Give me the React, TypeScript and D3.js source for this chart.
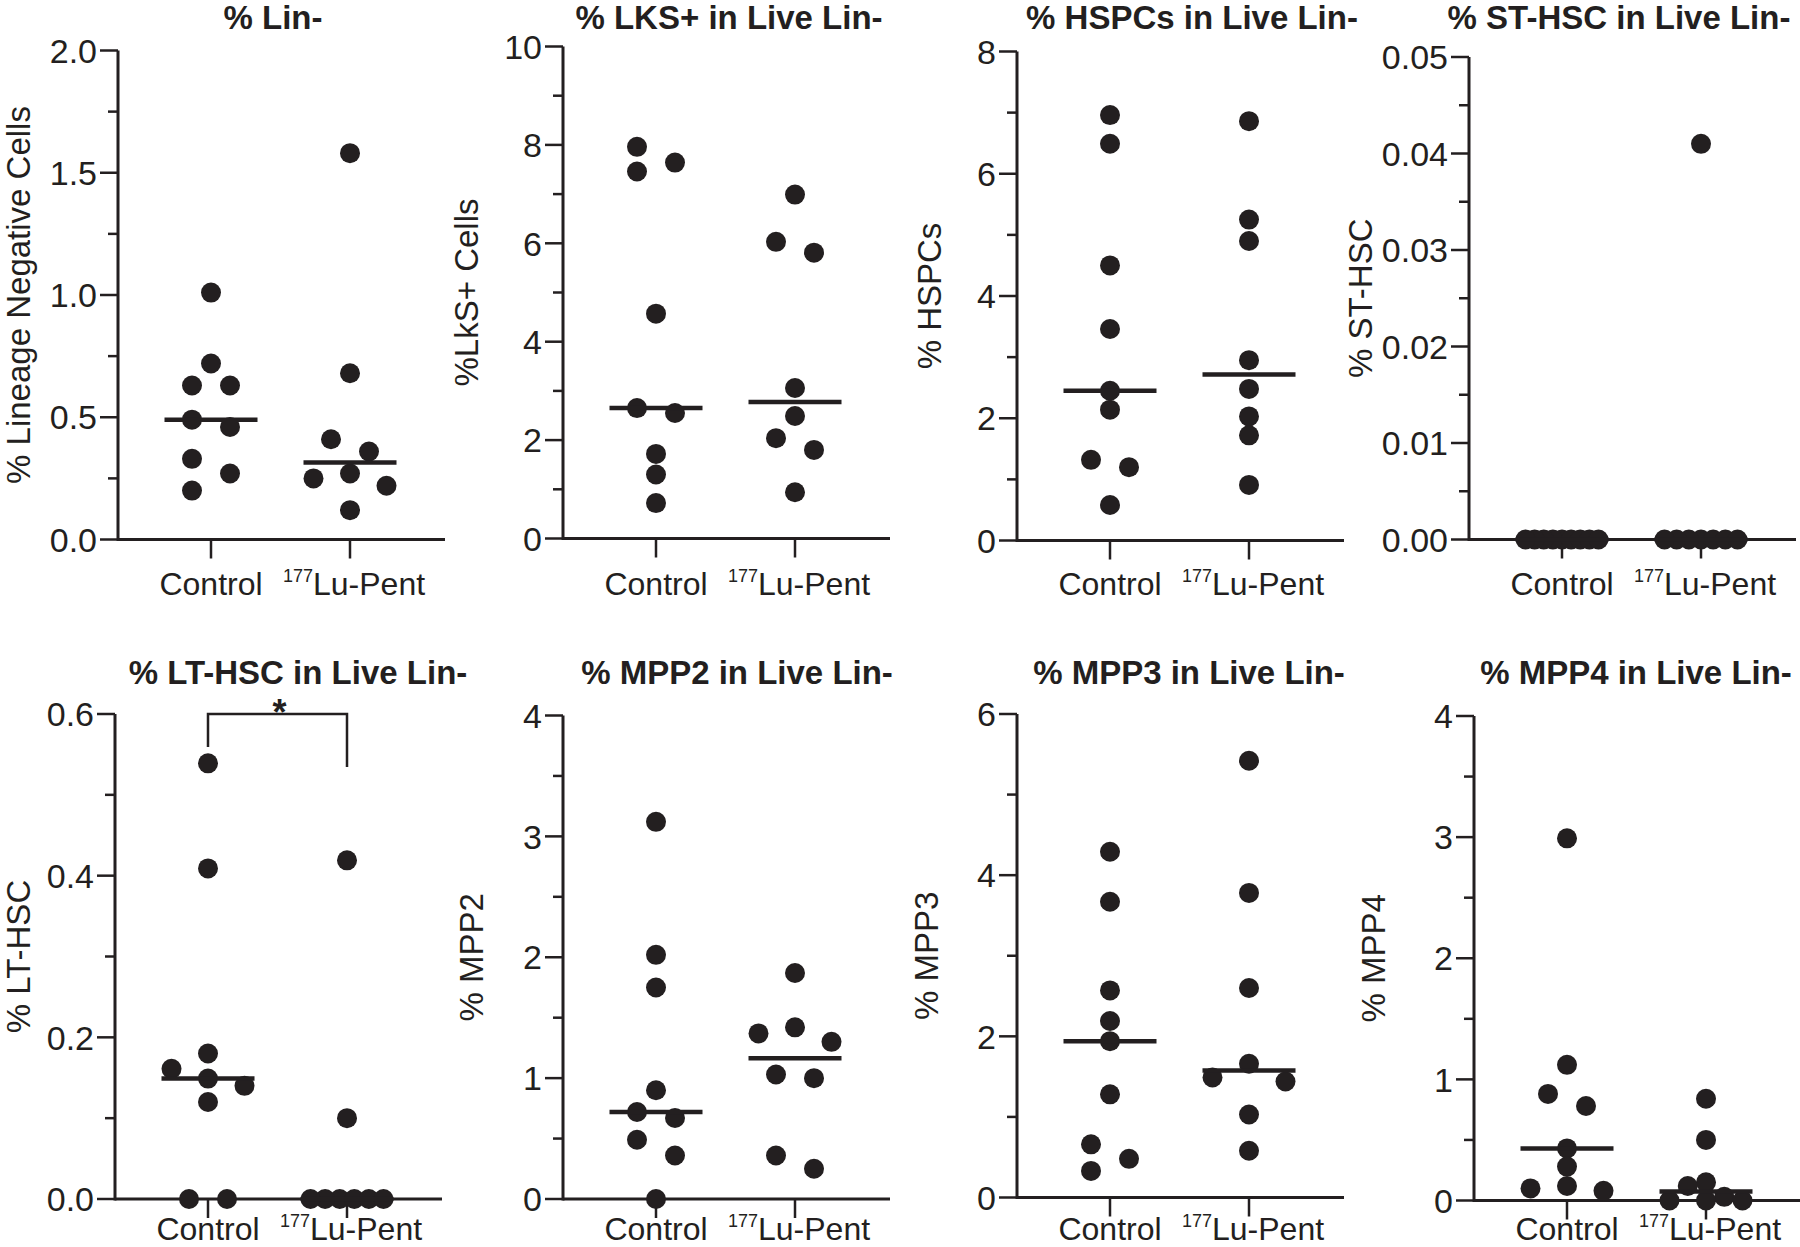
import React from 'react';
import * as d3 from 'd3';

// ---------------- data ----------------
const groups = ['Control', '177Lu-Pent'];

const linNegControl = [1.01, 0.72, 0.63, 0.63, 0.49, 0.46, 0.33, 0.27, 0.2];
const linNegLu = [1.58, 0.68, 0.41, 0.36, 0.27, 0.25, 0.22, 0.12];

const lksControl = [7.96, 7.64, 7.46, 4.57, 2.65, 2.55, 1.72, 1.3, 0.72];
const lksLu = [6.99, 6.03, 5.81, 3.06, 2.49, 2.04, 1.8, 0.94];

const hspcControl = [6.96, 6.49, 4.5, 3.46, 2.45, 2.14, 1.32, 1.2, 0.58];
const hspcLu = [6.86, 5.25, 4.9, 2.95, 2.48, 2.03, 1.72, 0.91];

const stControl = [0, 0, 0, 0, 0, 0, 0, 0, 0];
const stLu = [0.041, 0, 0, 0, 0, 0, 0, 0];

const ltControl = [0.539, 0.409, 0.18, 0.161, 0.149, 0.14, 0.12, 0, 0];
const ltLu = [0.419, 0.1, 0, 0, 0, 0, 0, 0];

const mpp2Control = [3.12, 2.02, 1.75, 0.9, 0.72, 0.67, 0.49, 0.36, 0];
const mpp2Lu = [1.87, 1.42, 1.37, 1.3, 1.03, 1.0, 0.36, 0.25];

const mpp3Control = [4.29, 3.67, 2.57, 2.19, 1.94, 1.28, 0.66, 0.48, 0.33];
const mpp3Lu = [5.42, 3.78, 2.6, 1.66, 1.49, 1.44, 1.03, 0.58];

const mpp4Control = [2.99, 1.12, 0.88, 0.78, 0.43, 0.28, 0.12, 0.1, 0.08];
const mpp4Lu = [0.84, 0.5, 0.15, 0.12, 0.03, 0, 0, 0];

const linNegTicks = [0, 0.5, 1.0, 1.5, 2.0];
const lksTicks = [0, 2, 4, 6, 8, 10];
const hspcTicks = [0, 2, 4, 6, 8];
const stTicks = [0, 0.01, 0.02, 0.03, 0.04, 0.05];
const ltTicks = [0, 0.2, 0.4, 0.6];
const mpp2Ticks = [0, 1, 2, 3, 4];
const mpp3Ticks = [0, 2, 4, 6];
const mpp4Ticks = [0, 1, 2, 3, 4];

const titles = [
  '% Lin-',
  '% LKS+ in Live Lin-',
  '% HSPCs in Live Lin-',
  '% ST-HSC in Live Lin-',
  '% LT-HSC in Live Lin-',
  '% MPP2 in Live Lin-',
  '% MPP3 in Live Lin-',
  '% MPP4 in Live Lin-',
];
const yLabels = [
  '% Lineage Negative Cells',
  '%LkS+ Cells',
  '% HSPCs',
  '% ST-HSC',
  '% LT-HSC',
  '% MPP2',
  '% MPP3',
  '% MPP4',
];
const significance = ['', '', '', '', '*', '', '', ''];

// ---------------- layout ----------------
const FONT = '"Liberation Sans", Arial, Helvetica, sans-serif';
const INK = '#231f20';

const row1 = { titleY: 29, xLabelY: 595 };
const row2 = { titleY: 684, xLabelY: 1240 };

const layouts = [
  { axisX: 118, top: 50.5, bottom: 539.5, titleCx: 273, labelCx: 18, row: row1, fmt: '.1f' },
  { axisX: 563, top: 46.5, bottom: 538.5, titleCx: 729, labelCx: 466, row: row1, fmt: 'd' },
  { axisX: 1017, top: 51.5, bottom: 540.5, titleCx: 1192, labelCx: 929, row: row1, fmt: 'd' },
  { axisX: 1469, top: 57, bottom: 539.5, titleCx: 1619, labelCx: 1360, row: row1, fmt: '.2f' },
  { axisX: 115, top: 714, bottom: 1199, titleCx: 298, labelCx: 18, row: row2, fmt: '.1f' },
  { axisX: 563, top: 715.5, bottom: 1199, titleCx: 737, labelCx: 471, row: row2, fmt: 'd' },
  { axisX: 1017, top: 714, bottom: 1197.5, titleCx: 1189, labelCx: 926, row: row2, fmt: 'd' },
  { axisX: 1474, top: 716, bottom: 1200.5, titleCx: 1636, labelCx: 1373, row: row2, fmt: 'd' },
];

const panelData = [
  [linNegControl, linNegLu, linNegTicks],
  [lksControl, lksLu, lksTicks],
  [hspcControl, hspcLu, hspcTicks],
  [stControl, stLu, stTicks],
  [ltControl, ltLu, ltTicks],
  [mpp2Control, mpp2Lu, mpp2Ticks],
  [mpp3Control, mpp3Lu, mpp3Ticks],
  [mpp4Control, mpp4Lu, mpp4Ticks],
] as [number[], number[], number[]][];

const R = 10; // dot radius
const THR = 18; // vertical overlap threshold (px)
const COL = 19; // column spacing
const SPAN = 73; // max spread of dot centres

type Pt = { v: number; y: number; dx: number };

// GraphPad-like column scatter layout
function swarm(values: number[], y: (v: number) => number): Pt[] {
  const pts: Pt[] = values.map((v) => ({ v, y: y(v), dx: 0 })).sort((a, b) => b.v - a.v);
  const comps: Pt[][] = [];
  let cur: Pt[] = [];
  for (const p of pts) {
    if (cur.length && Math.abs(p.y - cur[cur.length - 1].y) >= THR) {
      comps.push(cur);
      cur = [];
    }
    cur.push(p);
  }
  if (cur.length) comps.push(cur);
  for (const c of comps) {
    let m = 1;
    for (let a = 0; a < c.length; a++) {
      let k = 0;
      for (let b = a; b < c.length; b++) if (Math.abs(c[b].y - c[a].y) < THR) k++;
      m = Math.max(m, k);
    }
    if (m === 1) continue;
    const sp = Math.min(2 * COL, SPAN / (m - 1));
    const slots = d3
      .range(m)
      .map((k) => (k - (m - 1) / 2) * sp)
      .sort((a, b) => Math.abs(a) - Math.abs(b) || a - b);
    const occ: number[][] = slots.map(() => []);
    for (const p of c) {
      let best = 0;
      let bestScore = -Infinity;
      for (let k = 0; k < slots.length; k++) {
        const md = occ[k].length ? (d3.min(occ[k], (yy) => Math.abs(yy - p.y)) as number) : Infinity;
        if (md >= THR) {
          best = k;
          break;
        }
        if (md > bestScore) {
          bestScore = md;
          best = k;
        }
      }
      occ[best].push(p.y);
      p.dx = slots[best];
    }
  }
  return pts;
}

function Panel({ idx }: { idx: number }) {
  const L = layouts[idx];
  const [ctrl, lu, ticks] = panelData[idx];
  const y = d3.scaleLinear().domain([0, ticks[ticks.length - 1]]).range([L.bottom, L.top]);
  const x = d3.scalePoint<string>().domain(groups).range([L.axisX + 93, L.axisX + 232]);
  const fmt = d3.format(L.fmt);
  const minor = ticks.slice(1).map((t, i) => (t + ticks[i]) / 2);
  const xEnd = L.axisX + 327;
  const series = [ctrl, lu];
  const yMid = (L.top + L.bottom) / 2;
  const yMax = y(ticks[ticks.length - 1]);
  const xc = x(groups[0]) as number;
  const xl = x(groups[1]) as number;

  return (
    <g>
      {/* title */}
      <text x={L.titleCx} y={L.row.titleY} textAnchor="middle" fontWeight="bold" fontSize={33} fill={INK}>
        {titles[idx]}
      </text>
      {/* y label */}
      <text
        transform={`translate(${L.labelCx},${yMid}) rotate(-90)`}
        textAnchor="middle"
        dy="0.35em"
        fontSize={33}
        fill={INK}
      >
        {yLabels[idx]}
      </text>
      {/* y axis */}
      <line x1={L.axisX} x2={L.axisX} y1={L.top} y2={L.bottom + 1.5} stroke={INK} strokeWidth={3} />
      {ticks.map((t) => (
        <g key={'t' + t}>
          <line x1={L.axisX - 18} x2={L.axisX} y1={y(t)} y2={y(t)} stroke={INK} strokeWidth={2.5} />
          <text x={L.axisX - 21} y={y(t)} dy="0.36em" textAnchor="end" fontSize={34} fill={INK}>
            {fmt(t)}
          </text>
        </g>
      ))}
      {minor.map((t) => (
        <line key={'m' + t} x1={L.axisX - 10} x2={L.axisX} y1={y(t)} y2={y(t)} stroke={INK} strokeWidth={2.5} />
      ))}
      {/* x axis */}
      <line x1={L.axisX} x2={xEnd} y1={L.bottom} y2={L.bottom} stroke={INK} strokeWidth={3} />
      {groups.map((g) => (
        <line
          key={g}
          x1={x(g)}
          x2={x(g)}
          y1={L.bottom}
          y2={L.bottom + 19}
          stroke={INK}
          strokeWidth={2.5}
        />
      ))}
      <text x={xc} y={L.row.xLabelY} textAnchor="middle" fontSize={32} fill={INK}>
        Control
      </text>
      <text x={xl + 4} y={L.row.xLabelY} textAnchor="middle" fontSize={32} fill={INK}>
        <tspan fontSize={18} dy={-13}>
          177
        </tspan>
        <tspan dy={13}>Lu-Pent</tspan>
      </text>
      {/* dots */}
      {series.map((vals, si) =>
        swarm(vals, y).map((p, i) => (
          <circle key={si + '-' + i} cx={(si === 0 ? xc : xl) + p.dx} cy={p.y} r={R} fill={INK} />
        ))
      )}
      {/* medians */}
      {series.map((vals, si) => {
        const med = d3.median(vals) as number;
        const cx = si === 0 ? xc : xl;
        return (
          <line
            key={'med' + si}
            x1={cx - 46.5}
            x2={cx + 46.5}
            y1={y(med)}
            y2={y(med)}
            stroke={INK}
            strokeWidth={4.5}
          />
        );
      })}
      {/* significance */}
      {significance[idx] && (
        <g>
          <path
            d={`M${xc},${yMax + 33}V${yMax}H${xl}V${yMax + 53}`}
            fill="none"
            stroke={INK}
            strokeWidth={2.5}
          />
          <text x={(xc + xl) / 2 + 2} y={yMax + 11} textAnchor="middle" fontWeight="bold" fontSize={36} fill={INK}>
            {significance[idx]}
          </text>
        </g>
      )}
    </g>
  );
}

export default function App() {
  return (
    <svg
      width={1800}
      height={1247}
      style={{ position: 'absolute', left: 0, top: 0, background: '#fff' }}
      fontFamily={FONT}
    >
      <rect width={1800} height={1247} fill="#fff" />
      {layouts.map((_, i) => (
        <Panel key={i} idx={i} />
      ))}
    </svg>
  );
}
